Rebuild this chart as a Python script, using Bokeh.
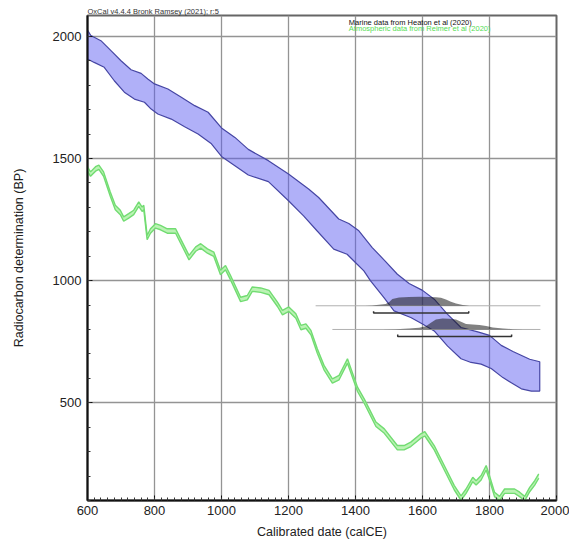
from bokeh.plotting import figure
from bokeh.models import FixedTicker, Label, Range1d
from bokeh.embed import file_html
from bokeh.resources import INLINE

# ---------------- data ----------------
marine_upper_years = [600, 610, 640, 670, 700, 730, 760, 780, 800, 840, 880, 920, 960, 1000, 1040, 1080,
                      1140, 1200, 1260, 1290, 1350, 1380, 1410, 1450, 1490, 1525, 1560, 1600, 1635, 1675,
                      1715, 1765, 1800, 1835, 1870, 1920, 1950]
marine_upper_bp = [2025, 2003, 1982, 1941, 1900, 1863, 1848, 1825, 1805, 1784, 1750, 1716, 1689, 1625, 1586, 1537,
                   1491, 1436, 1375, 1340, 1252, 1234, 1204, 1135, 1078, 1026, 988, 960, 924, 862,
                   808, 790, 776, 735, 710, 678, 668]
marine_lower_years = [600, 620, 650, 680, 710, 740, 770, 790, 810, 850, 890, 930, 970, 1000, 1040, 1080,
                      1140, 1200, 1245, 1285, 1335, 1375, 1405, 1425, 1445, 1485, 1515, 1565, 1600, 1635,
                      1675, 1715, 1745, 1775, 1805, 1840, 1865, 1895, 1925, 1950]
marine_lower_bp = [1907, 1893, 1873, 1818, 1771, 1743, 1730, 1702, 1682, 1661, 1630, 1600, 1560, 1508, 1470, 1432,
                   1405, 1327, 1265, 1204, 1129, 1108, 1067, 1040, 999, 930, 876, 849, 822, 794,
                   732, 680, 665, 658, 640, 603, 582, 557, 548, 548]

atmos_years = [600, 609, 624, 634, 648, 668, 683, 698, 708, 723, 738, 753, 763, 768, 778, 788, 803, 818, 838,
               863, 878, 903, 923, 938, 958, 977, 997, 1012, 1027, 1057, 1077, 1092, 1117, 1142, 1167, 1182,
               1201, 1222, 1237, 1252, 1267, 1286, 1306, 1331, 1351, 1376, 1406, 1426, 1461, 1486, 1525,
               1545, 1565, 1595, 1607, 1635, 1665, 1695, 1715, 1730, 1750, 1760, 1775, 1790, 1800, 1815,
               1830, 1845, 1875, 1890, 1905, 1920, 1935, 1947]
atmos_bp = [1457, 1436, 1457, 1464, 1436, 1354, 1299, 1279, 1252, 1265, 1279, 1313, 1292, 1299, 1176, 1203, 1224,
            1217, 1203, 1203, 1162, 1094, 1129, 1142, 1121, 1108, 1033, 1053, 1012, 923, 930, 965, 961, 951,
            903, 869, 883, 855, 808, 814, 787, 712, 644, 589, 603, 671, 555, 507, 412, 384, 316, 316, 330,
            364, 373, 316, 234, 152, 110, 138, 186, 172, 193, 234, 193, 125, 108, 138, 138, 125, 108, 145,
            172, 200]
atmos_sigma = 9

# measured samples (radiocarbon level, calibrated distributions, ranges)
sample_bp = [897, 800]
sample_line_start = [1281, 1331]
sample_line_end = [1952, 1952]
dist1_years = [1430, 1450, 1470, 1490, 1500, 1510, 1530, 1560, 1590, 1620, 1640, 1655, 1670, 1685, 1700, 1720, 1740]
dist1_prob = [0.0, 0.04, 0.1, 0.2, 0.4, 0.75, 0.92, 0.97, 1.0, 0.98, 0.95, 0.88, 0.7, 0.45, 0.25, 0.08, 0.0]
dist2_years = [1480, 1520, 1560, 1590, 1610, 1625, 1640, 1660, 1680, 1700, 1715, 1730, 1750, 1770, 1790,
               1810, 1840, 1870, 1900]
dist2_prob = [0.0, 0.03, 0.08, 0.15, 0.3, 0.6, 0.9, 1.0, 0.98, 0.9, 0.7, 0.5, 0.45, 0.4, 0.32, 0.18, 0.08, 0.03, 0.0]
dist_heights = [37, 45]
range_start = [1454, 1526]
range_end = [1738, 1866]
range_bp = [867, 771]

x_ticks = [600, 800, 1000, 1200, 1400, 1600, 1800, 2000]
y_ticks = [500, 1000, 1500, 2000]

header_text = "OxCal v4.4.4 Bronk Ramsey (2021); r:5"
legend_marine = "Marine data from Heaton et al (2020)"
legend_atmos = "Atmospheric data from Reimer et al (2020)"

# ---------------- figure ----------------
FONT = "Liberation Sans"
p = figure(width=569, height=543, output_backend="svg", toolbar_location=None,
           x_range=Range1d(600, 2000), y_range=Range1d(100, 2085),
           min_border_left=87, min_border_right=13, min_border_top=15, min_border_bottom=43,
           title=header_text)
p.title.text_font = FONT
p.title.text_font_size = "7.5px"
p.title.text_font_style = "normal"
p.title.text_color = "#333333"
p.title.align = "left"
p.title.offset = 0
p.title.standoff = 0
p.background_fill_color = "white"
p.border_fill_color = "white"
p.outline_line_color = "#666666"
p.outline_line_width = 2

# grids
for g in (p.xgrid, p.ygrid):
    g.grid_line_color = "#949494"
    g.grid_line_width = 1.3

# axes
p.xaxis.ticker = FixedTicker(ticks=x_ticks, minor_ticks=list(range(600, 2001, 20)))
p.yaxis.ticker = FixedTicker(ticks=y_ticks, minor_ticks=list(range(100, 2001, 100)))
for ax in (p.xaxis[0], p.yaxis[0]):
    ax.axis_line_color = "#111111"
    ax.axis_line_width = 2
    ax.major_tick_in = 5
    ax.major_tick_out = 0
    ax.minor_tick_in = 3
    ax.minor_tick_out = 0
    ax.major_tick_line_color = "#111111"
    ax.minor_tick_line_color = "#333333"
    ax.major_label_text_font = FONT
    ax.major_label_text_font_size = "13px"
    ax.major_label_text_color = "#222222"
    ax.axis_label_text_font = FONT
    ax.axis_label_text_font_size = "12.5px"
    ax.axis_label_text_font_style = "normal"
    ax.axis_label_text_color = "#222222"
p.xaxis.axis_label = "Calibrated date (calCE)"
p.yaxis.axis_label = "Radiocarbon determination (BP)"
p.xaxis.major_label_standoff = 5
p.xaxis.axis_label_standoff = 7
p.yaxis.major_label_standoff = 6
p.yaxis.axis_label_standoff = 24

# marine band
band_x = marine_upper_years + marine_lower_years[::-1]
band_y = marine_upper_bp + marine_lower_bp[::-1]
p.patch(band_x, band_y, fill_color="#5a5af0", fill_alpha=0.48,
        line_color="#4646a4", line_width=1.2)

# atmospheric curve
atm_hi = [b + atmos_sigma for b in atmos_bp]
atm_lo = [b - atmos_sigma for b in atmos_bp]
p.varea(x=atmos_years, y1=atm_lo, y2=atm_hi, fill_color="#b4f2ac", fill_alpha=0.9)
p.line(atmos_years, atm_hi, line_color="#72dc72", line_width=1.4)
p.line(atmos_years, atm_lo, line_color="#72dc72", line_width=1.4)

# sample lines
for i in range(2):
    p.line([sample_line_start[i], sample_line_end[i]], [sample_bp[i], sample_bp[i]],
           line_color="#b0b0b0", line_width=1)

# distributions
for yrs, prob, base, h in ((dist1_years, dist1_prob, sample_bp[0], dist_heights[0]),
                           (dist2_years, dist2_prob, sample_bp[1], dist_heights[1])):
    ys = [base + pr * h for pr in prob]
    p.patch(yrs + [yrs[-1], yrs[0]], ys + [base, base], fill_color="#1a1a1a", fill_alpha=0.55,
            line_color=None)

# ranges (brackets)
for i in range(2):
    p.line([range_start[i], range_start[i], range_end[i], range_end[i]],
           [range_bp[i] + 8, range_bp[i], range_bp[i], range_bp[i] + 8],
           line_color="#333333", line_width=1.5)

# legend texts
p.add_layout(Label(x=1380, y=2058, text=legend_marine, text_font=FONT, text_font_size="7.5px",
                   text_color="#111111", text_baseline="middle"))
p.add_layout(Label(x=1380, y=2031, text=legend_atmos, text_font=FONT, text_font_size="7.5px",
                   text_color="#55dd55", text_baseline="middle"))

open("out.html", "w").write(file_html(p, INLINE))
